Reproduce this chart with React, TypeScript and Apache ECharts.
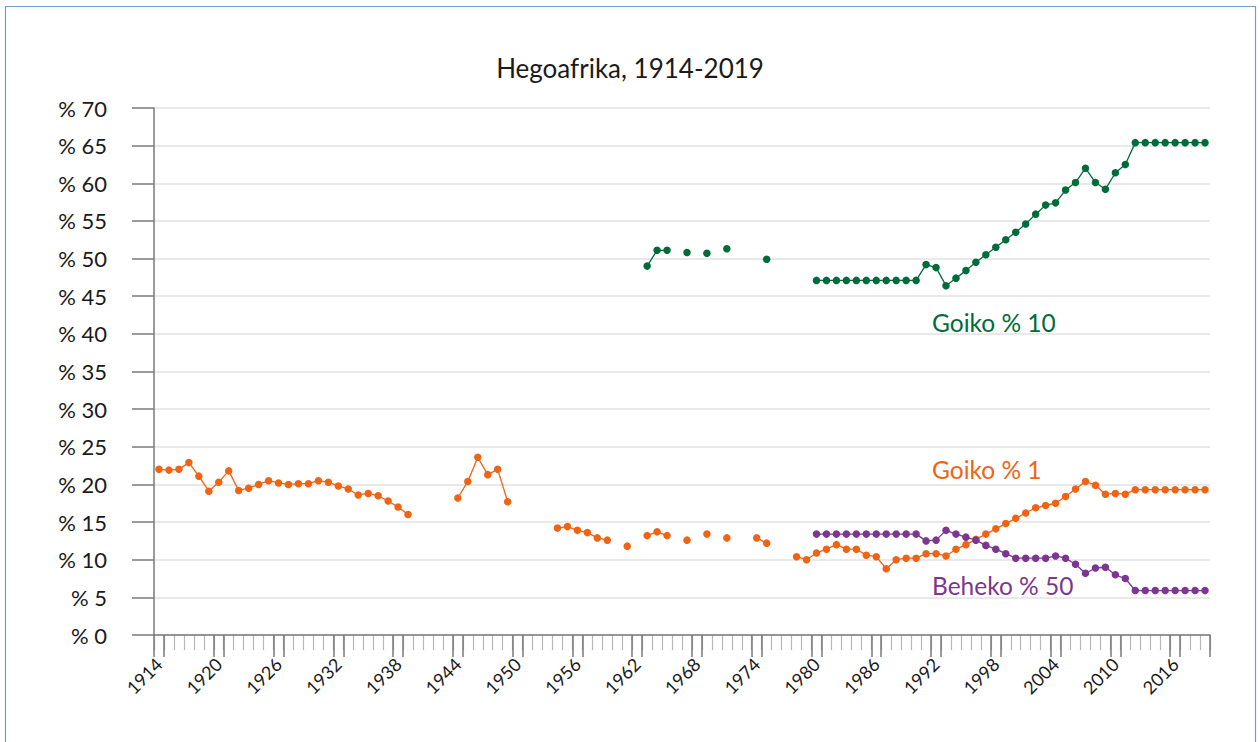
import React, { useEffect, useRef } from "react";
import * as echarts from "echarts";

const years: string[] = Array.from({ length: 106 }, (_, i) => String(1914 + i));

const goiko1: (number | null)[] = [
  22.0, 21.9, 22.0, 22.9, 21.1, 19.1, 20.3, 21.8, 19.2, 19.5,
  20.0, 20.5, 20.2, 20.0, 20.1, 20.1, 20.5, 20.3, 19.8, 19.4,
  18.6, 18.8, 18.5, 17.8, 17.0, 16.0, null, null, null, null,
  18.2, 20.4, 23.6, 21.3, 22.0, 17.7, null, null, null, null,
  14.2, 14.4, 13.9, 13.6, 12.9, 12.6, null, 11.8, null, 13.2,
  13.7, 13.2, null, 12.6, null, 13.4, null, 12.9, null, null,
  12.9, 12.2, null, null, 10.4, 10.0, 10.9, 11.4, 12.0, 11.4,
  11.4, 10.6, 10.4, 8.8, 10.0, 10.2, 10.2, 10.8, 10.8, 10.5,
  11.4, 12.0, 12.7, 13.4, 14.1, 14.8, 15.5, 16.2, 16.9, 17.2,
  17.5, 18.4, 19.4, 20.4, 19.9, 18.7, 18.8, 18.7, 19.3, 19.3,
  19.3, 19.3, 19.3, 19.3, 19.3, 19.3,
];

const goiko10: (number | null)[] = [
  null, null, null, null, null, null, null, null, null, null,
  null, null, null, null, null, null, null, null, null, null,
  null, null, null, null, null, null, null, null, null, null,
  null, null, null, null, null, null, null, null, null, null,
  null, null, null, null, null, null, null, null, null, 49.0,
  51.1, 51.1, null, 50.8, null, 50.7, null, 51.3, null, null,
  null, 49.9, null, null, null, null, 47.1, 47.1, 47.1, 47.1,
  47.1, 47.1, 47.1, 47.1, 47.1, 47.1, 47.1, 49.2, 48.8, 46.4,
  47.4, 48.4, 49.5, 50.5, 51.5, 52.5, 53.5, 54.6, 55.9, 57.1,
  57.4, 59.1, 60.1, 62.0, 60.1, 59.2, 61.4, 62.5, 65.4, 65.4,
  65.4, 65.4, 65.4, 65.4, 65.4, 65.4,
];

const beheko50: (number | null)[] = [
  null, null, null, null, null, null, null, null, null, null,
  null, null, null, null, null, null, null, null, null, null,
  null, null, null, null, null, null, null, null, null, null,
  null, null, null, null, null, null, null, null, null, null,
  null, null, null, null, null, null, null, null, null, null,
  null, null, null, null, null, null, null, null, null, null,
  null, null, null, null, null, null, 13.4, 13.4, 13.4, 13.4,
  13.4, 13.4, 13.4, 13.4, 13.4, 13.4, 13.4, 12.5, 12.6, 13.9,
  13.4, 13.0, 12.6, 11.9, 11.4, 10.8, 10.2, 10.2, 10.2, 10.2,
  10.5, 10.2, 9.4, 8.2, 8.9, 9.0, 8.0, 7.5, 5.9, 5.9,
  5.9, 5.9, 5.9, 5.9, 5.9, 5.9,
];

const seriesNames = ["Goiko % 10", "Goiko % 1", "Beheko % 50"];
const colors = ["#006b3a", "#ef6414", "#7d3592"];
const FONT = "Lato, 'Noto Sans', sans-serif";

export default function App() {
  const ref = useRef<HTMLDivElement>(null);
  useEffect(() => {
    if (!ref.current) return;
    const chart = echarts.init(ref.current, undefined, { renderer: "svg" });
    const mk = (name: string, data: (number | null)[], color: string) => ({
      name,
      type: "line",
      data,
      xAxisIndex: 0,
      yAxisIndex: 0,
      connectNulls: false,
      symbol: "circle",
      symbolSize: 7.5,
      showSymbol: true,
      showAllSymbol: true,
      itemStyle: { color },
      lineStyle: { color, width: 1.3 },
      z: 5,
    });
    chart.setOption({
      animation: false,
      backgroundColor: "#ffffff",
      textStyle: { fontFamily: FONT },
      title: {
        text: "Hegoafrika, 1914-2019",
        left: "center",
        top: 50,
        textStyle: { fontFamily: FONT, fontSize: 26, fontWeight: "normal", color: "#1a1a1a" },
      },
      grid: { left: 154, right: 50, top: 108, bottom: 107, containLabel: false },
      xAxis: [
        {
          type: "category",
          data: years,
          boundaryGap: true,
          position: "bottom",
          z: 3,
          axisLine: { show: true, onZero: false, lineStyle: { color: "#7a7a7a", width: 1.5 } },
          axisTick: {
            show: true,
            length: 22,
            interval: (idx: number) => idx % 6 === 0 || idx % 6 === 1,
            lineStyle: { color: "#7a7a7a", width: 1.5 },
          },
          axisLabel: {
            interval: 5,
            rotate: 45,
            margin: 26,
            fontSize: 18,
            color: "#1a1a1a",
            fontFamily: FONT,
          },
          splitLine: { show: false },
        },
        {
          type: "category",
          data: years,
          boundaryGap: true,
          position: "bottom",
          z: 2,
          axisLine: { show: false, onZero: false },
          axisTick: { show: true, length: 15, interval: 0, lineStyle: { color: "#b5b5b5", width: 1.2 } },
          axisLabel: { show: false },
          splitLine: { show: false },
        },
      ],
      yAxis: {
        type: "value",
        min: 0,
        max: 70,
        interval: 5,
        axisLine: { show: true, lineStyle: { color: "#7a7a7a", width: 1.5 } },
        axisTick: { show: true, length: 22, lineStyle: { color: "#7a7a7a", width: 1.5 } },
        axisLabel: {
          formatter: (v: number) => "% " + v,
          margin: 47,
          fontSize: 22,
          color: "#1a1a1a",
          fontFamily: FONT,
        },
        splitLine: { show: true, lineStyle: { color: "#e2e2e2", width: 1.5 } },
      },
      series: [
        mk(seriesNames[0], goiko10, colors[0]),
        mk(seriesNames[1], goiko1, colors[1]),
        mk(seriesNames[2], beheko50, colors[2]),
      ],
      graphic: [
        {
          type: "rect",
          silent: true,
          shape: { x: 5.5, y: 6.5, width: 1250, height: 800 },
          style: { fill: "none", stroke: "#73a0c2", lineWidth: 1.2 },
        },
        {
          type: "text",
          x: 932,
          y: 322,
          style: { text: seriesNames[0], fill: colors[0], font: `24.5px ${FONT}`, textVerticalAlign: "middle" },
        },
        {
          type: "text",
          x: 932,
          y: 469,
          style: { text: seriesNames[1], fill: colors[1], font: `24.5px ${FONT}`, textVerticalAlign: "middle" },
        },
        {
          type: "text",
          x: 932,
          y: 585,
          style: { text: seriesNames[2], fill: colors[2], font: `24.5px ${FONT}`, textVerticalAlign: "middle" },
        },
      ],
    });
    return () => chart.dispose();
  }, []);
  return (
    <div
      ref={ref}
      style={{ position: "fixed", left: 0, top: 0, width: 1260, height: 742, background: "#fff" }}
    />
  );
}
